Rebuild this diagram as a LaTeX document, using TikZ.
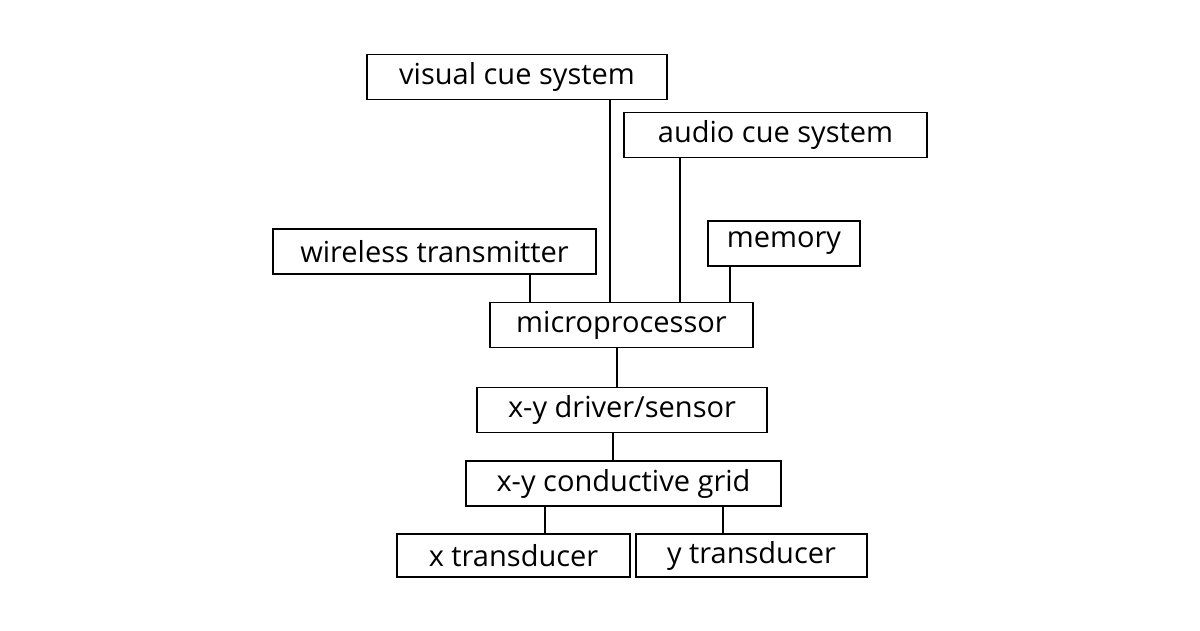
\documentclass[tikz,border=0pt]{standalone}
\usepackage{fontspec}
\setmainfont{Open Sans}
\begin{document}
\begin{tikzpicture}[x=1pt,y=-1pt,
    blk/.style={draw, line width=1.6pt, inner sep=0pt, minimum height=45pt, font=\fontsize{29}{34}\selectfont},
    wire/.style={line width=1.6pt}]
    \useasboundingbox (0,0) rectangle (1200,630);
    % Blocks
    \node[blk, minimum width=300pt] (vis) at (517,77) {visual cue system};
    \node[blk, minimum width=303pt] (aud) at (775.5,135) {audio cue system};
    \node[blk, minimum width=323pt] (wt) at (434.5,251.5) {wireless transmitter};
    \node[blk, minimum width=152pt] (mem) at (784,243.5) {memory};
    \node[blk, minimum width=263pt] (mp) at (621.5,325) {microprocessor};
    \node[blk, minimum width=290pt] (drv) at (622,410) {x-y driver/sensor};
    \node[blk, minimum width=315pt] (grid) at (623.5,483.5) {x-y conductive grid};
    \node[blk, minimum width=233pt, minimum height=43pt] (xt) at (513.5,555.5) {x transducer};
    \node[blk, minimum width=231pt, minimum height=43pt] (yt) at (751.5,555.5) {y transducer};
    % Connections
    \draw[wire] ([xshift=95.5pt]wt.south) -- ([xshift=95.5pt]wt.south |- mp.north);
    \draw[wire] ([xshift=93pt]vis.south) -- ([xshift=93pt]vis.south |- mp.north);
    \draw[wire] ([xshift=-95.5pt]aud.south) -- ([xshift=-95.5pt]aud.south |- mp.north);
    \draw[wire] ([xshift=-54pt]mem.south) -- ([xshift=-54pt]mem.south |- mp.north);
    \draw[wire] ([xshift=-4.5pt]mp.south) -- ([xshift=-4.5pt]mp.south |- drv.north);
    \draw[wire] ([xshift=-9pt]drv.south) -- ([xshift=-9pt]drv.south |- grid.north);
    \draw[wire] ([xshift=31.5pt]xt.north) -- ([xshift=31.5pt]xt.north |- grid.south);
    \draw[wire] ([xshift=-28.5pt]yt.north) -- ([xshift=-28.5pt]yt.north |- grid.south);
\end{tikzpicture}
\end{document}
